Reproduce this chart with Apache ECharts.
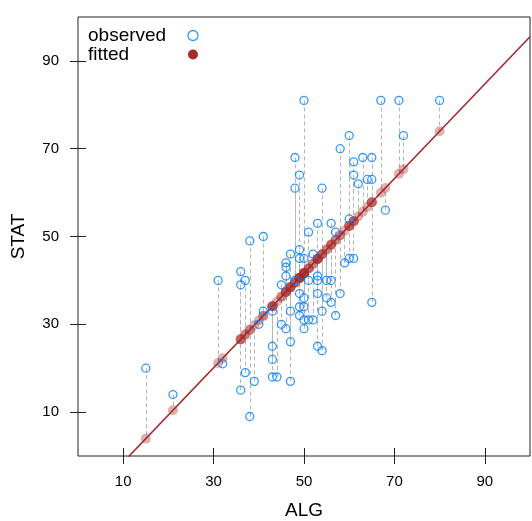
<!DOCTYPE html>
<html><head><meta charset="utf-8">
<script src="https://cdn.jsdelivr.net/npm/echarts@6/dist/echarts.min.js"></script>
<style>html,body{margin:0;padding:0;background:#fff}#c{width:532px;height:521px}</style>
</head><body><div id="c"></div>
<script>
const algValues  = [15,21,31,32,36,36,36,37,37,38,38,39,40,41,41,43,43,43,43,44,45,45,46,46,46,46,47,47,47,47,48,48,48,49,49,49,49,49,49,50,50,50,50,50,50,51,51,51,52,52,53,53,53,53,53,54,54,54,55,55,56,56,56,57,57,58,58,59,60,60,60,61,61,61,62,63,64,65,65,65,67,68,71,72,80];
const statValues = [20,14,40,21,42,39,15,40,19,49,9,17,30,50,33,33,25,22,18,18,39,30,44,43,41,29,46,33,26,17,68,61,40,64,47,45,37,34,32,81,45,36,34,31,29,51,40,31,46,31,53,41,40,37,25,61,33,24,40,36,53,40,35,51,32,70,37,44,73,54,45,67,64,45,62,68,63,68,63,35,81,56,81,73,81];
// Fitted regression line
const fitIntercept = -12.2;
const fitSlope = 1.077;
const xTicks = [10,30,50,70,90];
const yTicks = [10,30,50,70,90];
const xRange = [0,100];
const yRange = [0,100];
const legendNames = ['observed','fitted'];

const FONT = '"Liberation Sans", Arial, Helvetica, sans-serif';
const OBS_COLOR = '#0080ff';
const FIT_COLOR = '#a52a2a';

const fittedOf = x => fitIntercept + fitSlope * x;
const observedData = algValues.map((x,i)=>[x, statValues[i]]);
const fittedData = algValues.map(x=>[x, fittedOf(x)]);
const segData = algValues.map((x,i)=>({coords:[[x, statValues[i]],[x, fittedOf(x)]]}));
const lineData = xRange.map(x=>[x, fittedOf(x)]);

const chart = echarts.init(document.getElementById('c'), null, {renderer:'canvas'});

function axisBase(pos, ticks, range, showLabel, margin){
  return {
    type:'value', position:pos, min:range[0], max:range[1],
    axisLine:{show:false},
    splitLine:{show:false},
    axisTick:{show:true, inside:false, length:8, customValues:ticks, lineStyle:{color:'#222', width:1}},
    axisLabel:{show:showLabel, customValues:ticks, color:'#000', fontSize:15, fontFamily:FONT, margin:margin},
  };
}

const option = {
  animation:false,
  backgroundColor:'#fff',
  grid:{left:78, right:2, top:17, bottom:65, show:true, borderColor:'#222', borderWidth:1,
    backgroundColor:'transparent', containLabel:false, outerBoundsMode:'none'},
  xAxis:[
    Object.assign(axisBase('bottom', xTicks, xRange, true, 18), {name:'ALG', nameLocation:'middle', nameGap:45,
      nameTextStyle:{fontSize:19, color:'#000', fontFamily:FONT}}),
    axisBase('top', xTicks, xRange, false, 8)
  ],
  yAxis:[
    Object.assign(axisBase('left', yTicks, yRange, true, 19), {name:'STAT', nameLocation:'middle', nameGap:50,
      nameTextStyle:{fontSize:19, color:'#000', fontFamily:FONT}}),
    axisBase('right', yTicks, yRange, false, 8)
  ],
  legend:{
    show:true, orient:'vertical', left:88, top:26, align:'right', itemGap:0,
    itemWidth:10, itemHeight:10, padding:0,
    formatter: name => '{t|' + name + '}',
    textStyle:{fontSize:19, color:'#000', fontFamily:FONT, lineHeight:18,
      rich:{t:{width:95, align:'left', fontSize:19, fontFamily:FONT, color:'#000', lineHeight:18}}},
    data:[
      {name:legendNames[0], icon:'circle', itemStyle:{color:'transparent', borderColor:OBS_COLOR, borderWidth:1.3}},
      {name:legendNames[1], icon:'circle', itemStyle:{color:FIT_COLOR, opacity:1}}
    ],
    selectedMode:false
  },
  series:[
    {type:'lines', coordinateSystem:'cartesian2d', silent:true, data:segData, symbol:'none',
      lineStyle:{color:'#b5b5b5', width:1, type:[4,3], opacity:1}, z:1},
    {type:'line', data:lineData, showSymbol:false, clip:true, silent:true,
      lineStyle:{color:FIT_COLOR, width:1.6}, z:2},
    {name:legendNames[1], type:'scatter', data:fittedData, symbol:'circle', symbolSize:10,
      itemStyle:{color:'rgba(165,42,42,0.45)'}, z:3},
    {name:legendNames[0], type:'scatter', data:observedData, symbol:'circle', symbolSize:8,
      itemStyle:{color:'rgba(0,0,0,0)', borderColor:OBS_COLOR, borderWidth:1.3}, z:4}
  ]
};
chart.setOption(option);
</script>
</body></html>
